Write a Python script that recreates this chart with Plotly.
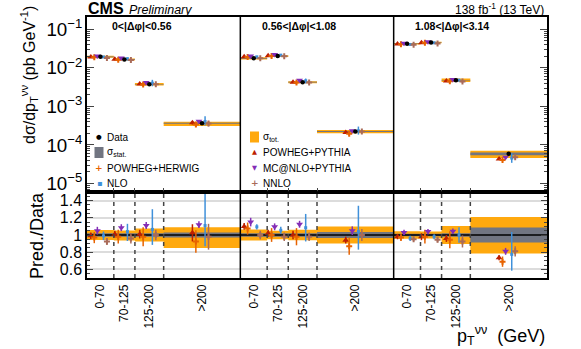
import plotly.graph_objects as go

# ---------------- data ----------------
panel_labels = ["0<|Δφ|<0.56", "0.56<|Δφ|<1.08", "1.08<|Δφ|<3.14"]
bin_labels = ["0-70", "70-125", "125-200", ">200"]
bin_edges = [0, 70, 125, 200, 400]

# measured cross section (pb/GeV), 3 panels x 4 bins
data_xsec = [0.0194, 0.0166, 0.00377, 0.000367,
             0.0177, 0.0203, 0.00426, 0.000224,
             0.0422, 0.0457, 0.00478, 0.0000589]
# relative uncertainties
tot_up = [0.057, 0.052, 0.075, 0.09, 0.065, 0.05, 0.06, 0.10, 0.045, 0.04, 0.105, 0.21]
tot_dn = [0.057, 0.065, 0.075, 0.15, 0.065, 0.05, 0.06, 0.10, 0.045, 0.04, 0.105, 0.215]
stat_unc = [0.02, 0.02, 0.02, 0.03, 0.02, 0.02, 0.02, 0.035, 0.015, 0.015, 0.02, 0.087]

# predictions / data
ratio_pp = [0.99, 1.01, 1.01, 1.025, 1.10, 1.02, 1.00, 0.94, 0.98, 0.98, 0.96, 0.735]
err_pp = [0.04, 0.04, 0.05, 0.10, 0.04, 0.04, 0.05, 0.04, 0.03, 0.04, 0.04, 0.03]
ratio_ph = [0.97, 0.98, 0.98, 0.925, 1.075, 1.00, 0.98, 0.87, 0.97, 0.98, 0.945, 0.69]
err_ph = [0.065, 0.08, 0.11, 0.13, 0.07, 0.08, 0.10, 0.10, 0.04, 0.08, 0.10, 0.06]
ratio_mc = [1.05, 1.085, 1.11, 1.12, 1.15, 1.095, 1.125, 1.05, 1.03, 1.04, 1.045, 0.81]
err_mc = [0.045, 0.04, 0.04, 0.04, 0.05, 0.04, 0.04, 0.05, 0.03, 0.03, 0.03, 0.04]
ratio_nlo = [0.99, 1.04, 1.065, 1.11, 1.095, 1.055, 1.085, 1.04, 0.96, 0.98, 1.00, 0.775]
err_nlo_up = [0.05, 0.09, 0.235, 0.40, 0.03, 0.04, 0.16, 0.30, 0.03, 0.03, 0.09, 0.26]
err_nlo_dn = [0.05, 0.11, 0.18, 0.24, 0.03, 0.04, 0.16, 0.21, 0.03, 0.03, 0.09, 0.19]
ratio_nnlo = [0.925, 0.96, 1.00, 0.98, 1.00, 0.98, 0.98, 1.00, 0.95, 0.945, 0.925, 0.81]
err_nnlo = [0.04, 0.06, 0.06, 0.15, 0.05, 0.05, 0.05, 0.07, 0.02, 0.03, 0.07, 0.06]

# ---------------- geometry helpers ----------------
PANEL_W = bin_edges[-1]
x_lo, x_hi, x_c = [], [], []
for p in range(len(panel_labels)):
    for j in range(len(bin_labels)):
        a = p * PANEL_W + bin_edges[j]
        b = p * PANEL_W + bin_edges[j + 1]
        x_lo.append(a); x_hi.append(b); x_c.append((a + b) / 2)
NB = len(x_c)

FONT = "Liberation Sans, Arial, sans-serif"
ORANGE = "#ffa90e"
GREY = "#717581"
W, H = 581, 349
ML, MR, MT, MB = 87, 34, 17, 71
PW, PH = W - ML - MR, H - MT - MB
SPLIT = 86 / PH


def band(lo, hi):
    xs, ys = [], []
    for i in range(NB):
        xs += [x_lo[i], x_hi[i], x_hi[i], x_lo[i], x_lo[i], None]
        ys += [lo[i], lo[i], hi[i], hi[i], lo[i], None]
    return xs, ys


fig = go.Figure()

# ---- bands (top, absolute) ----
bx, by = band([d * (1 - t) for d, t in zip(data_xsec, tot_dn)],
              [d * (1 + t) for d, t in zip(data_xsec, tot_up)])
fig.add_trace(go.Scatter(x=bx, y=by, fill="toself", fillcolor=ORANGE, mode="none",
                         name="σ tot.", xaxis="x2", yaxis="y2"))
bx, by = band([d * (1 - s) for d, s in zip(data_xsec, stat_unc)],
              [d * (1 + s) for d, s in zip(data_xsec, stat_unc)])
fig.add_trace(go.Scatter(x=bx, y=by, fill="toself", fillcolor=GREY, mode="none",
                         name="σ stat.", xaxis="x2", yaxis="y2"))
# ---- bands (ratio) ----
bx, by = band([1 - t for t in tot_dn], [1 + t for t in tot_up])
fig.add_trace(go.Scatter(x=bx, y=by, fill="toself", fillcolor=ORANGE, mode="none",
                         xaxis="x", yaxis="y"))
bx, by = band([1 - s for s in stat_unc], [1 + s for s in stat_unc])
fig.add_trace(go.Scatter(x=bx, y=by, fill="toself", fillcolor=GREY, mode="none",
                         xaxis="x", yaxis="y"))

# unity line in ratio
fig.add_trace(go.Scatter(x=[x_lo[0], x_hi[-1]], y=[1, 1], mode="lines",
                         line=dict(color="black", width=1.5),
                         hoverinfo="skip", xaxis="x", yaxis="y"))

models = [
    ("POWHEG+PYTHIA", ratio_pp, err_pp, err_pp, "#bd1f01", "triangle-up", 6, -25),
    ("POWHEG+HERWIG", ratio_ph, err_ph, err_ph, "#e76300", "cross", 5, -16),
    ("MC@NLO+PYTHIA", ratio_mc, err_mc, err_mc, "#832db6", "triangle-down", 6, -8),
    ("NLO", ratio_nlo, err_nlo_up, err_nlo_dn, "#3f90da", "square", 3, 8),
    ("NNLO", ratio_nnlo, err_nnlo, err_nnlo, "#a96b59", "cross", 5, 17),
]
for name, r, eu, ed, col, sym, size, off in models:
    xs = [x + off for x in x_c]
    fig.add_trace(go.Scatter(
        x=xs, y=[d * v for d, v in zip(data_xsec, r)], mode="markers",
        marker=dict(color=col, symbol=sym, size=size),
        error_y=dict(type="data", array=[d * e for d, e in zip(data_xsec, eu)],
                     arrayminus=[d * e for d, e in zip(data_xsec, ed)],
                     color=col, thickness=1.5, width=0),
        name=name, xaxis="x2", yaxis="y2"))
    fig.add_trace(go.Scatter(
        x=xs, y=r, mode="markers", marker=dict(color=col, symbol=sym, size=size),
        error_y=dict(type="data", array=eu, arrayminus=ed, color=col,
                     thickness=1.5, width=0),
        name=name, xaxis="x", yaxis="y"))

# data points
fig.add_trace(go.Scatter(x=x_c, y=data_xsec, mode="markers",
                         marker=dict(color="black", size=4.5),
                         name="Data", xaxis="x2", yaxis="y2"))

# dashed bin boundaries in ratio panel
dx, dy = [], []
for p in range(len(panel_labels)):
    for e in bin_edges[1:-1]:
        dx += [p * PANEL_W + e, p * PANEL_W + e, None]
        dy += [0.5, 1.5, None]
fig.add_trace(go.Scatter(x=dx, y=dy, mode="lines",
                         line=dict(color="#444444", width=1.5, dash="4px,4px"),
                         hoverinfo="skip", xaxis="x", yaxis="y"))

edge_ticks = sorted(set([p * PANEL_W + e for p in range(3) for e in bin_edges]))

xr = [x_lo[0], x_hi[-1]]
fig.update_layout(
    width=W, height=H,
    margin=dict(l=ML, r=MR, t=MT, b=MB),
    paper_bgcolor="white", plot_bgcolor="white",
    font=dict(family=FONT, color="black"),
    showlegend=False,
    xaxis=dict(domain=[0, 1], range=xr, anchor="y", tickmode="array",
               tickvals=x_c, ticktext=bin_labels * 3, tickangle=-90,
               ticks="", tickfont=dict(size=12), showline=True, mirror=True,
               linecolor="black", linewidth=1.5, showgrid=False, zeroline=False),
    yaxis=dict(domain=[0, SPLIT], range=[0.5, 1.5], anchor="x",
               tickvals=[0.6, 0.8, 1.0, 1.2, 1.4], ticktext=["0.6", "0.8", "1", "1.2", "1.4"],
               ticks="inside", ticklen=6, tickfont=dict(size=16),
               minor=dict(ticks="inside", ticklen=3, dtick=0.05, showgrid=False),
               showgrid=True, gridcolor="#dcdcdc", gridwidth=1.5,
               showline=True, mirror="ticks", linecolor="black", linewidth=1.5,
               zeroline=False),
    xaxis2=dict(domain=[0, 1], range=xr, anchor="y2", matches="x",
                tickmode="array", tickvals=edge_ticks, showticklabels=False,
                ticks="inside", ticklen=4, showline=True, mirror=True,
                linecolor="black", linewidth=1.5, showgrid=False, zeroline=False),
    yaxis2=dict(domain=[SPLIT, 1], type="log", range=[-5.22, -0.68], anchor="x2",
                dtick=1, exponentformat="power", ticks="inside", ticklen=7,
                tickfont=dict(size=15),
                minor=dict(ticks="inside", ticklen=3, dtick="D1", showgrid=False),
                showline=True, mirror="ticks", linecolor="black", linewidth=1.5,
                showgrid=False, zeroline=False),
)

# panel separators spanning both subplots
for p in range(1, len(panel_labels)):
    fig.add_shape(type="line", xref="x", yref="paper", x0=p * PANEL_W, x1=p * PANEL_W,
                  y0=0, y1=1, line=dict(color="black", width=1.5))
fig.add_shape(type="line", xref="paper", yref="paper", x0=0, x1=1, y0=SPLIT, y1=SPLIT,
              line=dict(color="black", width=1.5))


def px(xp):
    return (xp - ML) / PW


def py(yp):
    return (H - MB - yp) / PH


ann = []
for p, lab in enumerate(panel_labels):
    ann.append(dict(text="<b>%s</b>" % lab, xref="paper", yref="paper",
                    x=p / 3 + (0.05 if p == 0 else 0.042), y=py(26),
                    xanchor="left", yanchor="middle",
                    showarrow=False, font=dict(size=10.5)))
ann += [
    dict(text="<b>CMS</b>", xref="paper", yref="paper", x=px(86), y=py(9), xanchor="left",
         yanchor="middle", showarrow=False, font=dict(size=16)),
    dict(text="<i>Preliminary</i>", xref="paper", yref="paper", x=px(127), y=py(10),
         xanchor="left", yanchor="middle", showarrow=False, font=dict(size=12.5)),
    dict(text="138 fb<sup>-1</sup> (13 TeV)", xref="paper", yref="paper", x=px(546), y=py(9.5),
         xanchor="right", yanchor="middle", showarrow=False, font=dict(size=12)),
    dict(text="dσ/dp<sub>T</sub><sup>νν</sup> (pb GeV<sup>-1</sup>)", xref="paper",
         yref="paper", x=px(29), y=py(75), xanchor="center", yanchor="middle",
         textangle=-90, showarrow=False, font=dict(size=16)),
    dict(text="Pred./Data", xref="paper", yref="paper", x=px(37), y=py(236), xanchor="center",
         yanchor="middle", textangle=-90, showarrow=False, font=dict(size=18)),
    dict(text="p<sub>T</sub><sup>νν</sup>  (GeV)", xref="paper", yref="paper", x=px(547),
         y=py(335), xanchor="right", yanchor="middle", showarrow=False, font=dict(size=18)),
]

# ---- legend (two columns) ----
legend_col1 = [("●", "black", 6.5, "Data"), (None, GREY, 0, "σ<sub>stat.</sub>"),
               ("+", "#e76300", 9, "POWHEG+HERWIG"), ("▪", "#3f90da", 8, "NLO")]
legend_col2 = [(None, ORANGE, 0, "σ<sub>tot.</sub>"), ("▲", "#bd1f01", 6.5, "POWHEG+PYTHIA"),
               ("▼", "#832db6", 6.5, "MC@NLO+PYTHIA"), ("+", "#a96b59", 9, "NNLO")]
rows_y = [137, 152.5, 168, 183]
for col, sx, tx in [(legend_col1, 99, 105), (legend_col2, 254.5, 260.5)]:
    for (sym, color, size, label), yy in zip(col, rows_y):
        if sym is None:
            fig.add_shape(type="rect", xref="paper", yref="paper",
                          x0=px(sx - 4.5), x1=px(sx + 4.5), y0=py(yy + 5.5), y1=py(yy - 5.5),
                          fillcolor=color, line=dict(width=0))
        else:
            ann.append(dict(text="<b>%s</b>" % sym if sym == "+" else sym, xref="paper",
                            yref="paper", x=px(sx), y=py(yy), xanchor="center",
                            yanchor="middle", showarrow=False,
                            font=dict(size=size, color=color, family="DejaVu Sans")))
        ann.append(dict(text=label, xref="paper", yref="paper", x=px(tx), y=py(yy),
                        xanchor="left", yanchor="middle", showarrow=False,
                        font=dict(size=10)))

fig.update_layout(annotations=ann)

fig.write_html("out.html", config={"displayModeBar": False},
               post_script="document.body.style.margin='0px';")
